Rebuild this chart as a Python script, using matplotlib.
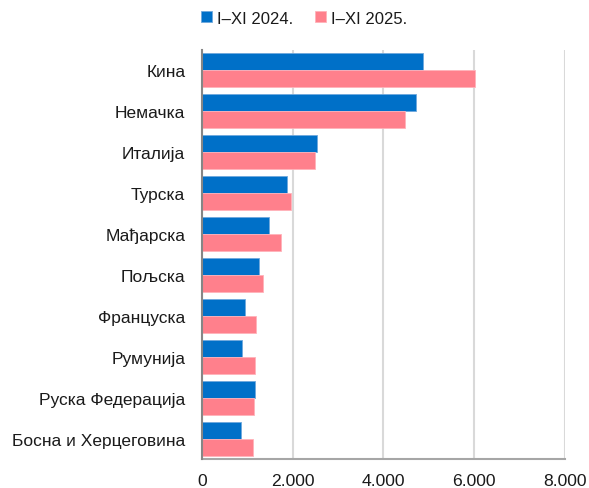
import matplotlib
matplotlib.use("Agg")
import matplotlib.pyplot as plt
import numpy as np
from matplotlib.ticker import FuncFormatter

categories = ["Кина", "Немачка", "Италија", "Турска", "Мађарска", "Пољска",
              "Француска", "Румунија", "Руска Федерација", "Босна и Херцеговина"]
values_2024 = [4870, 4720, 2530, 1870, 1485, 1265, 955, 880, 1160, 860]
values_2025 = [6010, 4475, 2490, 1960, 1750, 1340, 1200, 1175, 1140, 1130]
series_labels = ["I–XI 2024.", "I–XI 2025."]
xticks = [0, 2000, 4000, 6000, 8000]

plt.rcParams['font.family'] = ['Liberation Sans', 'DejaVu Sans']

fig = plt.figure(figsize=(5.89, 4.89), dpi=100)
ax = fig.add_axes([0.343, 0.0593, 0.616, 0.837])

n = len(categories)
y = np.arange(n)
h = 0.415
c1 = "#0070C8"
c2 = "#FF808C"
b1 = ax.barh(y - h/2, values_2024, height=h, color=c1, edgecolor="#6FA8DC", linewidth=0.6, label=series_labels[0], zorder=3)
b2 = ax.barh(y + h/2, values_2025, height=h, color=c2, edgecolor="#FFB3BA", linewidth=0.6, label=series_labels[1], zorder=3)

ax.set_ylim(n - 0.5, -0.5)
ax.set_xlim(0, 8000)
ax.set_yticks(y)
ax.set_yticklabels(categories, fontsize=12.5, color="#1a1a1a")
ax.set_xticks(xticks)
ax.xaxis.set_major_formatter(FuncFormatter(lambda v, p: f"{int(v):,}".replace(",", ".")))
ax.tick_params(axis='x', labelsize=12.6, length=0, pad=10, colors="#1a1a1a")
ax.tick_params(axis='y', length=0, pad=12)
ax.grid(axis='x', color="#D9D9D9", linewidth=1.5, zorder=0)
for s in ["top", "right"]:
    ax.spines[s].set_visible(False)
ax.spines["left"].set_color("#868686")
ax.spines["left"].set_linewidth(1.5)
ax.spines["bottom"].set_color("#A6A6A6")
ax.spines["bottom"].set_linewidth(1.5)
ax.spines["left"].set_zorder(4)

fig.legend(handles=[b1, b2], labels=series_labels, loc="center", bbox_to_anchor=(0.516, 0.961),
           ncol=2, frameon=False, fontsize=12, handlelength=0.65, handleheight=0.65,
           handletextpad=0.3, columnspacing=1.3, labelcolor="#1a1a1a")

fig.savefig("out.png", dpi=100)
